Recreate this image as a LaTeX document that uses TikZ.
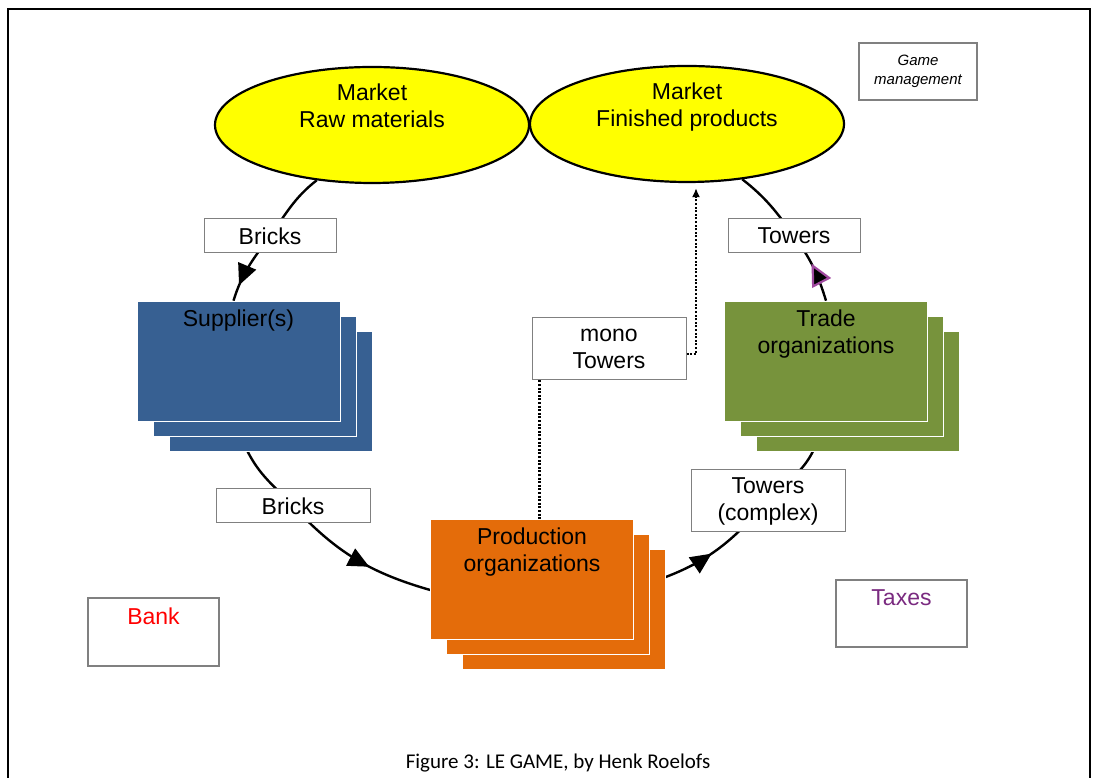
\documentclass[tikz,border=0pt]{standalone}
\usepackage{fontspec}
\setmainfont{Liberation Sans}
\newfontfamily\capfont{Carlito}
\usetikzlibrary{shapes.geometric, arrows.meta, positioning, calc, backgrounds, decorations.markings}

\definecolor{mktyellow}{HTML}{FFFF00}
\definecolor{supblue}{HTML}{376092}
\definecolor{tradegreen}{HTML}{77933C}
\definecolor{prodorange}{HTML}{E46C0A}
\definecolor{taxpurple}{HTML}{7A2A80}
\definecolor{tipviolet}{HTML}{A04AA0}
\definecolor{boxgray}{HTML}{808080}

\newcommand{\bigtext}{\fontsize{23}{27}\selectfont}

\begin{document}
\begin{tikzpicture}[
        x=1pt, y=1pt,
        market/.style={ellipse, draw=black, line width=2.2pt, fill=mktyellow, minimum width=314pt, minimum height=116pt, inner sep=0pt},
        mkttext/.style={font=\bigtext, align=center, anchor=north, inner sep=0pt, yshift=-18pt},
        flowlabel/.style={rectangle, draw=boxgray, line width=1pt, fill=white, font=\bigtext, align=center, inner sep=0pt, minimum height=34pt},
        notebox/.style={rectangle, draw=boxgray, line width=1.2pt, fill=white, inner sep=0pt},
        boxtext/.style={font=\bigtext, anchor=north, inner sep=0pt, yshift=-10pt},
        stack/.style={rectangle, draw=white, line width=0.6pt, minimum width=203pt, minimum height=120pt, inner sep=0pt},
        stacktext/.style={font=\bigtext, align=center, anchor=north, inner sep=0pt, yshift=-9pt},
        flowline/.style={line width=2.4pt},
        flowarrow/.style={flowline, postaction={decorate}, decoration={markings, mark=at position #1 with {\arrow{Triangle[length=21pt,width=19pt]}}}},
        towerarrow/.style={flowline, postaction={decorate}, decoration={markings, mark=at position #1 with {\arrow{Triangle[length=22pt,width=21pt,fill=black,color=tipviolet,line width=2.2pt]}}}},
        dotline/.style={dash pattern=on 2pt off 1.6pt, line width=2.2pt}
    ]
    \useasboundingbox (0,0) rectangle (1097,778);

    % Page frame
    \draw[line width=1.2pt] (8,0) -- (8,769) -- (1090,769) -- (1090,0);

    % Markets
    \node[market, label={[mkttext]north:Market\\Raw materials}] (mr) at (372,653) {};
    \node[market, label={[mkttext]north:Market\\Finished products}] (mf) at (687,654) {};

    % Game management
    \node[notebox, minimum width=118pt, minimum height=57pt, align=center, font=\itshape\fontsize{15}{19}\selectfont] (game) at (918,706.5) {Game\\management};

    % Goods
    \node[flowlabel, minimum width=132pt] (bricksA) at (270,542) {Bricks};
    \node[flowlabel, minimum width=132pt] (towersA) at (794,542) {Towers};
    \node[flowlabel, minimum width=154pt, minimum height=62pt] (monoT) at (609,429) {mono\\Towers};
    \node[flowlabel, minimum width=154pt] (bricksB) at (293,272) {Bricks};
    \node[flowlabel, minimum width=154pt, minimum height=62pt] (towersB) at (768,277) {Towers\\(complex)};

    % Suppliers
    \node[stack, fill=supblue] (sup3) at (270.5,387) {};
    \node[stack, fill=supblue] (sup2) at ([shift={(-16,15)}]sup3.center) {};
    \node[stack, fill=supblue, label={[stacktext]north:Supplier(s)}] (sup) at ([shift={(-16,15)}]sup2.center) {};

    % Trade organizations
    \node[stack, fill=tradegreen] (trade3) at (858,387) {};
    \node[stack, fill=tradegreen] (trade2) at ([shift={(-16,15)}]trade3.center) {};
    \node[stack, fill=tradegreen, label={[stacktext]north:Trade\\organizations}] (trade) at ([shift={(-16,15)}]trade2.center) {};

    % Production organizations
    \node[stack, fill=prodorange] (prod3) at (564,169) {};
    \node[stack, fill=prodorange] (prod2) at ([shift={(-16,15)}]prod3.center) {};
    \node[stack, fill=prodorange, label={[stacktext]north:Production\\organizations}] (prod) at ([shift={(-16,15)}]prod2.center) {};

    % Bank and taxes
    \node[notebox, minimum width=131pt, minimum height=68pt, label={[boxtext, text=red]north:Bank}] (bank) at (153.5,146) {};
    \node[notebox, minimum width=131pt, minimum height=67pt, label={[boxtext, text=taxpurple]north:Taxes}] (taxes) at (901.5,164.5) {};

    % Caption
    \node[font=\capfont\fontsize{21}{25}\selectfont] (caption) at (558,15) {Figure 3: LE GAME, by Henk Roelofs};

    % Cycle
    \begin{scope}[on background layer]
    \draw[flowline] (mr.225) to[out=218, in=54] (bricksA.center);
    \draw[flowarrow=0.78] (bricksA.center) to[out=234, in=73] ([xshift=-5pt]sup.north);
    \draw[flowline] ([xshift=-23pt]sup3.south) to[out=297, in=133] (bricksB.center);
    \draw[flowarrow=0.6] (bricksB.center) to[out=313, in=164] ($(prod.west)+(0,-11)$);
    \draw[flowarrow=0.4] ($(prod3.east)+(0,32)$) to[out=21, in=228] (towersB.center);
    \draw[flowline] (towersB.center) to[out=48, in=243] ([xshift=-45pt]trade3.south);
    \draw[towerarrow=0.55] (trade.north) to[out=107, in=306] (towersA.center);
    \draw[flowline] (towersA.center) to[out=126, in=322] (mf.315);
    \end{scope}

    % Mono towers
    \draw[dotline] ([xshift=8pt]monoT.south west) -- ([xshift=8pt]monoT.south west |- prod.north);
    \draw[dotline, -{Latex[length=9pt,width=8pt]}] ($(monoT.east)+(0,-5)$) -| ($(mf.south)+(9,-5)$);

\end{tikzpicture}
\end{document}
